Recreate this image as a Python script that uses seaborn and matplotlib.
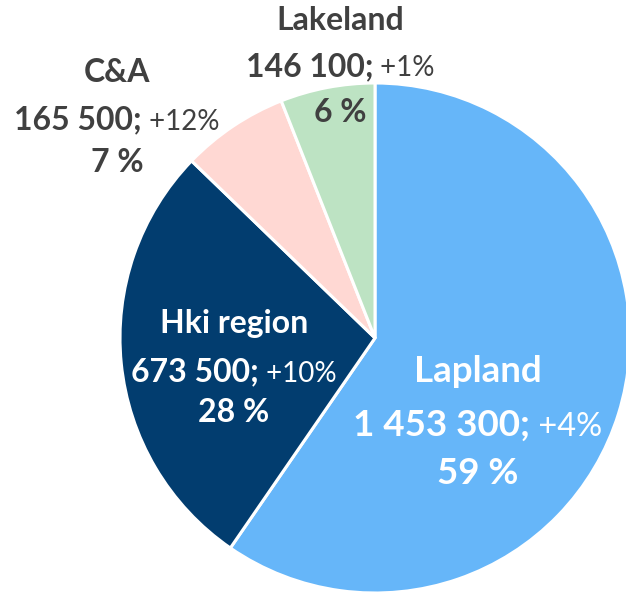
import matplotlib
matplotlib.use("Agg")
import matplotlib.pyplot as plt
import seaborn as sns

regions = ["Lapland", "Hki region", "C&A", "Lakeland"]
visitors = [1453300, 673500, 165500, 146100]
changes = ["+4%", "+10%", "+12%", "+1%"]
shares = ["59 %", "28 %", "7 %", "6 %"]
colors = ["#66b6f9", "#023d6f", "#ffd8d3", "#bde3c3"]

sns.set_theme(style="white")
plt.rcParams["font.family"] = ["Lato", "DejaVu Sans"]

W, H = 626, 593
fig = plt.figure(figsize=(W / 100, H / 100), dpi=100)
ax = fig.add_axes([0, 0, 1, 1])

ax.pie(
    visitors,
    colors=colors,
    startangle=90,
    counterclock=False,
    center=(375, H - 338),
    radius=255,
    wedgeprops=dict(edgecolor="white", linewidth=2.2),
    frame=True,
)
ax.set_xlim(0, W)
ax.set_ylim(0, H)
ax.set_aspect("equal")
ax.axis("off")

# label layout: centre x, line y (image px), big size, small size, colour
layout = {
    "Lapland": (478, [372, 423, 473], 26.5, 23.5, "white"),
    "Hki region": (234, [323, 370, 413], 23, 20, "white"),
    "C&A": (117, [72, 118, 162], 23, 20, "#404040"),
    "Lakeland": (340, [20, 65, 112], 23, 20, "#404040"),
}

fig.canvas.draw()
renderer = fig.canvas.get_renderer()


def fmt(n):
    return f"{n:,}".replace(",", " ")


for name, value, change, share in zip(regions, visitors, changes, shares):
    cx, ys, fs_big, fs_small, color = layout[name]
    ax.text(cx, H - ys[0], name, ha="center", va="center", fontsize=fs_big,
            fontweight="bold", color=color)
    # mixed-weight middle line
    bold = ax.text(0, H - ys[1], fmt(value) + ";", ha="left", va="baseline",
                   fontsize=fs_big, fontweight="bold", color=color)
    norm = ax.text(0, H - ys[1], " " + change, ha="left", va="baseline",
                   fontsize=fs_small, color=color)
    wb = bold.get_window_extent(renderer).width
    wn = norm.get_window_extent(renderer).width
    left = cx - (wb + wn) / 2
    bold.set_x(left)
    norm.set_x(left + wb)
    base = H - ys[1] - fs_big * 0.5
    bold.set_y(base)
    norm.set_y(base)
    ax.text(cx, H - ys[2], share, ha="center", va="center", fontsize=fs_big,
            fontweight="bold", color=color)

fig.savefig("out.png", dpi=100)
